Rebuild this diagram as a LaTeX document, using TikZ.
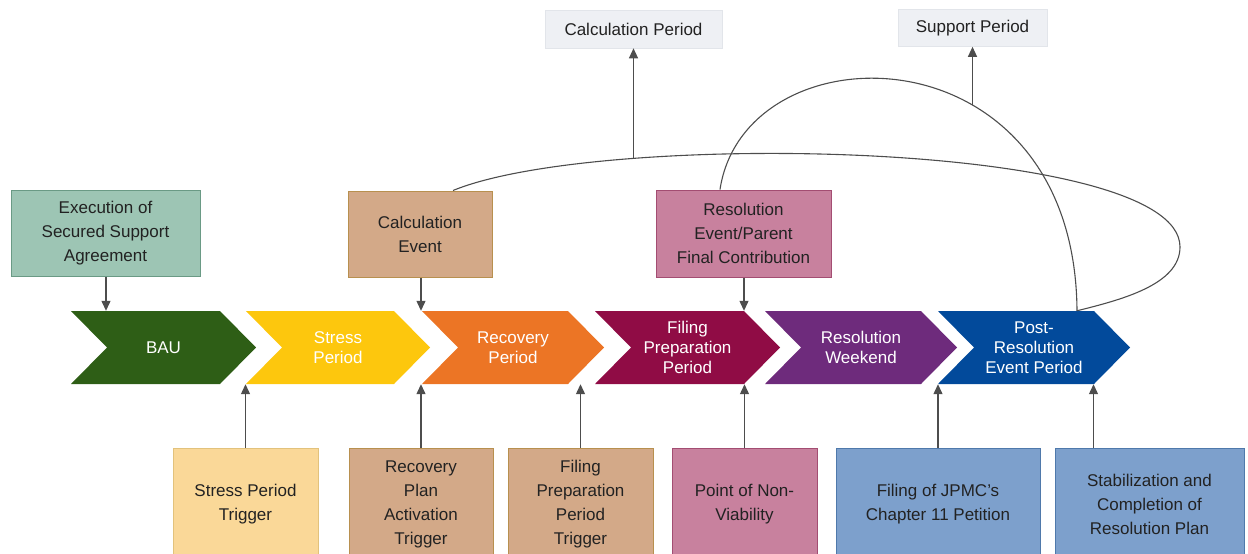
\documentclass[tikz,border=0pt]{standalone}
\usepackage{fontspec}
\setmainfont{Liberation Sans}
\usetikzlibrary{arrows.meta}

\definecolor{txt}{HTML}{222222}
\definecolor{linegray}{HTML}{4D4D4D}
\definecolor{labelfill}{HTML}{EEF0F4}
\definecolor{labeldraw}{HTML}{E2E5EA}
\definecolor{sagefill}{HTML}{9DC5B4}
\definecolor{sagedraw}{HTML}{6A9A85}
\definecolor{tanfill}{HTML}{D3A988}
\definecolor{tandraw}{HTML}{B8904F}
\definecolor{pinkfill}{HTML}{C8819E}
\definecolor{pinkdraw}{HTML}{A34D72}
\definecolor{paleyfill}{HTML}{FAD898}
\definecolor{paleydraw}{HTML}{E2C27C}
\definecolor{bluefill}{HTML}{7DA0CC}
\definecolor{bluedraw}{HTML}{4F79AB}
\definecolor{cBAU}{HTML}{2E5E16}
\definecolor{cStress}{HTML}{FDC70D}
\definecolor{cRecov}{HTML}{EC7525}
\definecolor{cFiling}{HTML}{900C45}
\definecolor{cWeekend}{HTML}{6E2B7C}
\definecolor{cPost}{HTML}{024A9B}

% chevron: left edge x, tip x, colour
\newcommand\chevshape[3]{%
  \fill[#3] (#1,311) -- ({#2-36},311) -- (#2,347.5) -- ({#2-36},384)
    -- (#1,384) -- ({#1+36},347.5) -- cycle;}

\begin{document}
\begin{tikzpicture}[x=1pt,y=-1pt,
  box/.style={rectangle, inner sep=0pt, align=center, text=txt,
    line width=1pt, font=\fontsize{17}{24}\selectfont},
  toplabel/.style={box, fill=labelfill, draw=labeldraw, line width=0.6pt},
  chevlabel/.style={rectangle, inner sep=0pt, minimum height=73pt,
    minimum width=100pt, align=center, text=white,
    font=\fontsize{17}{20}\selectfont},
  link/.style={draw=linegray, line width=1.2pt,
    -{Triangle[length=10pt,width=9pt]}},
  arcline/.style={draw=linegray, line width=1.1pt}]

\useasboundingbox (0,0) rectangle (1248,554);

% phase chevrons
\chevshape{71}{256}{cBAU}
\chevshape{246}{430}{cStress}
\chevshape{422}{604}{cRecov}
\chevshape{595}{780}{cFiling}
\chevshape{765}{957}{cWeekend}
\chevshape{938}{1130}{cPost}

\node[chevlabel] (bau)     at (163.5,347.5) {BAU};
\node[chevlabel] (stress)  at (338,347.5)   {Stress\\Period};
\node[chevlabel] (recov)   at (513,347.5)   {Recovery\\Period};
\node[chevlabel] (filing)  at (687.5,347.5) {Filing\\Preparation\\Period};
\node[chevlabel] (weekend) at (861,347.5)   {Resolution\\Weekend};
\node[chevlabel] (post)    at (1034,347.5)  {Post-\\Resolution\\Event Period};

% events above the timeline
\node[box, fill=sagefill, draw=sagedraw, minimum width=189pt, minimum height=86pt]
  (exec) at (105.5,233) {Execution of\\Secured Support\\Agreement};
\node[box, fill=tanfill, draw=tandraw, minimum width=144pt, minimum height=86pt]
  (calcev) at (420,234) {Calculation\\Event};
\node[box, fill=pinkfill, draw=pinkdraw, minimum width=175pt, minimum height=87pt]
  (resev) at (743.5,233.5) {Resolution\\Event/Parent\\Final Contribution};

% triggers below the timeline
\node[box, fill=paleyfill, draw=paleydraw, minimum width=145pt, minimum height=112pt]
  (trigstress) at (245.5,504) {Stress Period\\Trigger};
\node[box, fill=tanfill, draw=tandraw, minimum width=144pt, minimum height=112pt]
  (trigrecov) at (421,504) {Recovery\\Plan\\Activation\\Trigger};
\node[box, fill=tanfill, draw=tandraw, minimum width=145pt, minimum height=112pt]
  (trigfiling) at (580.5,504) {Filing\\Preparation\\Period\\Trigger};
\node[box, fill=pinkfill, draw=pinkdraw, minimum width=145pt, minimum height=112pt]
  (pnv) at (744.5,504) {Point of Non-\\Viability};
\node[box, fill=bluefill, draw=bluedraw, minimum width=204pt, minimum height=112pt]
  (jpmc) at (938,504) {Filing of JPMC's\\Chapter 11 Petition};
\node[box, fill=bluefill, draw=bluedraw, minimum width=189pt, minimum height=112pt]
  (stab) at (1149.5,504) {Stabilization and\\Completion of\\Resolution Plan};

% period labels
\node[toplabel, minimum width=177pt, minimum height=38pt]
  (calcper) at (633.5,29) {Calculation Period};
\node[toplabel, minimum width=149pt, minimum height=37pt]
  (suppper) at (972.5,28) {Support Period};

% event arrows onto the timeline
\draw[link] ([xshift=0.5pt]exec.south) -- ([xshift=0.5pt]exec.south |- bau.north);
\draw[link] ([xshift=1pt]calcev.south) -- ([xshift=1pt]calcev.south |- recov.north);
\draw[link] ([xshift=0.5pt]resev.south) -- ([xshift=0.5pt]resev.south |- filing.north);

% trigger arrows onto the timeline
\draw[link] (trigstress.north) -- (trigstress.north |- stress.south);
\draw[link] (trigrecov.north) -- (trigrecov.north |- recov.south);
\draw[link] (trigfiling.north) -- (trigfiling.north |- recov.south);
\draw[link] (pnv.north) -- (pnv.north |- filing.south);
\draw[link] (jpmc.north) -- (jpmc.north |- post.south);
\draw[link] ([xshift=-56pt]stab.north) -- ([xshift=-56pt]stab.north |- post.south);

% calculation period span
\draw[arcline] ([xshift=33pt]calcev.north)
  .. controls (600,130) and (1180,140) .. coordinate[pos=0.255] (cp) (1180,247)
  .. controls (1180,285) and (1120,300) .. ([xshift=43pt]post.north);
% support period span
\draw[arcline] ([xshift=-23.5pt]resev.north)
  .. controls (745,25) and (1075,25) .. coordinate[pos=0.63] (sp) ([xshift=43pt]post.north);

\draw[link] (calcper.south |- cp) -- (calcper.south);
\draw[link] (suppper.south |- sp) -- (suppper.south);

\end{tikzpicture}
\end{document}
